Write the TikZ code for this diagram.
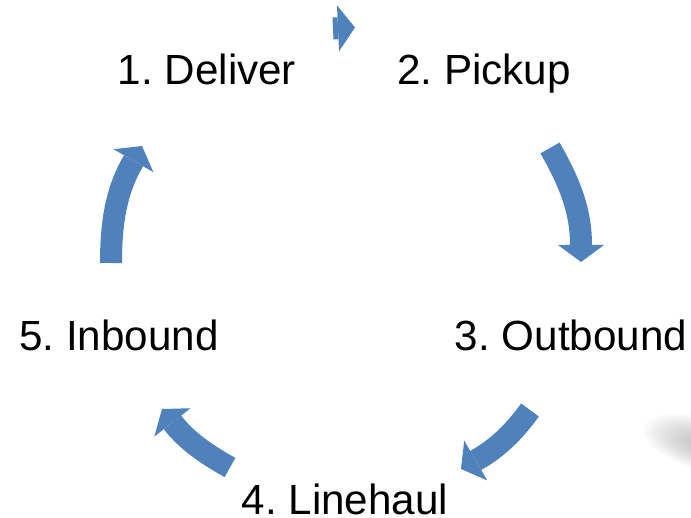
\documentclass[tikz,border=0pt]{standalone}
\usepackage{fontspec}
\setmainfont{Liberation Sans}
\usepackage{xcolor}
\usepackage{tikz}
\usetikzlibrary{arrows.meta}
\definecolor{azul}{HTML}{4F81BD}
\definecolor{sombra}{HTML}{8C8C8C}
\frenchspacing
\tikzset{
  etapa/.style={anchor=base,inner sep=0pt,font=\fontsize{30}{36}\selectfont},
  flecha/.style={azul,line width=5.5mm,-{Triangle[width=11.5mm,length=4.25mm,line width=0pt]}},
}

\begin{document}
\begin{tikzpicture}[x=0.025cm,y=0.025cm]
  \useasboundingbox (0,0) rectangle (691,-518);
  % soft shadow at the right edge
  \begin{scope}
    \clip (0,0) rectangle (691,-518);
    \foreach \r in {1,...,14}
      \fill[sombra,opacity=0.04,rotate around={-16:(702,-444)}] (702,-444) ellipse ({64-3.4*\r} and {27-1.4*\r});
  \end{scope}
  % stages
  \node[etapa] (deliver) at (207,-85) {1. Deliver};
  \node[etapa] (pickup) at (484,-85) {2. Pickup};
  \node[etapa] (outbound) at (571,-350) {3. Outbound};
  \node[etapa] (linehaul) at (345,-514) {4. Linehaul};
  \node[etapa] (inbound) at (119,-350) {5. Inbound};
  % arrow ends
  \coordinate (d1) at (333,-28.5);  \coordinate (p0) at (355,-27.5);
  \coordinate (p1) at (550,-148);   \coordinate (o0) at (581,-262);
  \coordinate (o1) at (530,-410);   \coordinate (l0) at (461,-469);
  \coordinate (l1) at (230,-467.5); \coordinate (i0) at (162,-409);
  \coordinate (i1) at (111,-263);   \coordinate (d0) at (142,-146);
  % cycle arrows
  \draw[flecha] (d1) -- (p0);
  \draw[flecha] (p1) to[out=-60,in=90] (o0);
  \draw[flecha] (o1) to[out=234,in=30] (l0);
  \draw[flecha] (l1) to[out=151,in=308] (i0);
  \draw[flecha] (i1) to[out=90,in=240] (d0);
\end{tikzpicture}
\end{document}
